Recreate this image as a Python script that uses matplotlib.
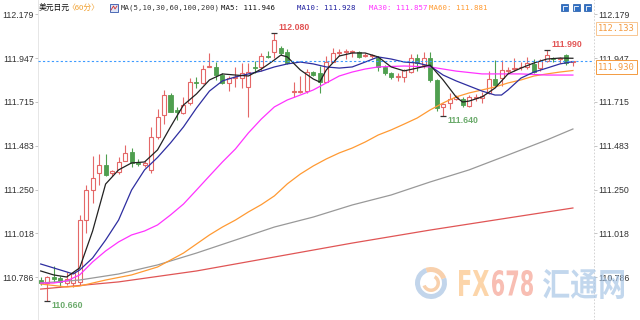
import matplotlib
matplotlib.use("Agg")
import matplotlib.pyplot as plt
from matplotlib.patches import Rectangle, Wedge, PathPatch
from matplotlib.textpath import TextPath
from matplotlib.font_manager import FontProperties
from matplotlib.transforms import Affine2D
import numpy as np

plt.rcParams['font.family'] = ['Liberation Sans', 'Noto Sans CJK SC', 'DejaVu Sans']

# ---------------- data ----------------
opens = [110.770, 110.752, 110.788, 110.780, 110.752, 110.754, 110.762, 111.088, 111.247, 111.340,
         111.380, 111.340, 111.345, 111.403, 111.450, 111.398, 111.380, 111.353, 111.530, 111.645,
         111.750, 111.670, 111.655, 111.710, 111.820, 111.815, 111.900, 111.900, 111.857, 111.817,
         111.840, 111.840, 111.795, 111.900, 111.900, 111.960, 111.979, 111.999, 111.980, 111.768,
         111.767, 111.772, 111.875, 111.866, 111.822, 111.928, 111.972, 111.980, 111.977, 111.980,
         111.958, 111.958, 111.950, 111.900, 111.866, 111.847, 111.848, 111.875, 111.946, 111.910,
         111.946, 111.830, 111.686, 111.707, 111.730, 111.728, 111.695, 111.733, 111.735, 111.760,
         111.835, 111.840, 111.880, 111.890, 111.898, 111.902, 111.915, 111.893, 111.933, 111.946,
         111.940, 111.963, 111.925]
highs = [110.788, 110.790, 110.845, 110.790, 110.810, 110.814, 111.115, 111.274, 111.427, 111.440,
         111.440, 111.355, 111.420, 111.485, 111.470, 111.410, 111.400, 111.583, 111.677, 111.780,
         111.760, 111.690, 111.740, 111.840, 111.845, 111.910, 111.975, 111.928, 111.870, 111.850,
         111.900, 111.920, 111.922, 111.930, 111.975, 111.985, 112.080, 112.010, 111.995, 111.820,
         111.850, 111.890, 111.880, 111.905, 111.960, 112.000, 111.997, 111.995, 111.990, 111.985,
         111.975, 111.970, 111.960, 111.910, 111.875, 111.870, 111.890, 111.970, 111.970, 111.980,
         111.980, 111.835, 111.710, 111.760, 111.750, 111.740, 111.750, 111.755, 111.765, 111.880,
         111.937, 111.935, 111.900, 111.950, 111.925, 111.955, 111.940, 111.940, 111.990, 111.955,
         111.955, 111.970, 111.933]
lows = [110.744, 110.660, 110.762, 110.735, 110.745, 110.735, 110.744, 111.020, 111.180, 111.274,
        111.320, 111.320, 111.330, 111.400, 111.370, 111.375, 111.370, 111.340, 111.520, 111.600,
        111.660, 111.620, 111.650, 111.700, 111.790, 111.810, 111.898, 111.830, 111.810, 111.770,
        111.795, 111.790, 111.636, 111.870, 111.880, 111.945, 111.950, 111.965, 111.915, 111.740,
        111.760, 111.760, 111.850, 111.760, 111.820, 111.925, 111.960, 111.940, 111.955, 111.950,
        111.952, 111.945, 111.880, 111.855, 111.835, 111.823, 111.820, 111.870, 111.880, 111.895,
        111.820, 111.668, 111.640, 111.675, 111.725, 111.690, 111.690, 111.720, 111.710, 111.755,
        111.795, 111.800, 111.870, 111.880, 111.883, 111.890, 111.870, 111.880, 111.927, 111.925,
        111.920, 111.910, 111.905]
closes = [110.752, 110.788, 110.774, 110.761, 110.775, 110.808, 111.088, 111.247, 111.310, 111.380,
          111.327, 111.350, 111.398, 111.445, 111.390, 111.385, 111.390, 111.530, 111.636, 111.750,
          111.663, 111.660, 111.700, 111.820, 111.815, 111.890, 111.905, 111.857, 111.817, 111.840,
          111.848, 111.868, 111.875, 111.893, 111.958, 111.955, 112.045, 111.973, 111.920, 111.772,
          111.772, 111.875, 111.858, 111.822, 111.928, 111.972, 111.980, 111.986, 111.982, 111.954,
          111.965, 111.962, 111.900, 111.866, 111.845, 111.853, 111.884, 111.946, 111.920, 111.946,
          111.830, 111.681, 111.703, 111.730, 111.740, 111.698, 111.740, 111.742, 111.745, 111.835,
          111.805, 111.884, 111.885, 111.895, 111.900, 111.922, 111.875, 111.933, 111.963, 111.940,
          111.946, 111.922, 111.930]

ma5_idx = [0, 2, 4, 6, 8, 10, 12, 14, 16, 18, 20, 22, 24, 26, 28, 30, 32, 34, 36, 37, 38, 40, 42, 43,
           44, 46, 48, 50, 52, 54, 56, 58, 60, 62, 64, 65, 66, 68, 70, 72, 74, 76, 78, 80, 82]
ma5_val = [110.818, 110.797, 110.786, 110.834, 111.030, 111.279, 111.354, 111.391, 111.396, 111.460,
           111.582, 111.698, 111.757, 111.831, 111.863, 111.857, 111.852, 111.889, 111.937, 111.963,
           111.953, 111.884, 111.836, 111.820, 111.884, 111.958, 111.974, 111.974, 111.953, 111.900,
           111.879, 111.894, 111.910, 111.831, 111.741, 111.714, 111.719, 111.741, 111.788, 111.863,
           111.894, 111.921, 111.942, 111.947, 111.946]
ma10_idx = [0, 2, 4, 5, 6, 8, 10, 12, 14, 16, 18, 20, 22, 24, 26, 28, 30, 32, 34, 36, 38, 40, 42, 44,
            46, 48, 50, 52, 54, 56, 58, 60, 62, 64, 66, 68, 70, 71, 72, 74, 76, 78, 80, 82]
ma10_val = [110.855, 110.834, 110.813, 110.802, 110.823, 110.887, 110.982, 111.088, 111.247, 111.354,
            111.420, 111.497, 111.582, 111.682, 111.772, 111.826, 111.847, 111.863, 111.878, 111.900,
            111.916, 111.926, 111.916, 111.900, 111.894, 111.900, 111.926, 111.953, 111.942, 111.926,
            111.921, 111.905, 111.857, 111.826, 111.799, 111.772, 111.751, 111.751, 111.778, 111.841,
            111.873, 111.894, 111.916, 111.928]
ma30_idx = [0, 2, 4, 6, 8, 10, 12, 14, 16, 18, 20, 22, 24, 26, 28, 30, 32, 34, 36, 38, 40, 42, 44,
            46, 48, 50, 52, 56, 60, 62, 64, 68, 74, 78, 82]
ma30_val = [110.754, 110.754, 110.765, 110.797, 110.866, 110.924, 110.972, 111.009, 111.030, 111.062,
            111.115, 111.173, 111.247, 111.322, 111.396, 111.465, 111.550, 111.624, 111.688, 111.725,
            111.751, 111.778, 111.815, 111.852, 111.873, 111.889, 111.900, 111.905, 111.900, 111.889,
            111.878, 111.863, 111.863, 111.857, 111.857]
ma60_idx = [0, 4, 6, 10, 14, 18, 22, 24, 26, 28, 30, 32, 34, 36, 38, 40, 42, 44, 46, 48, 50, 52, 54,
            56, 58, 60, 62, 64, 66, 68, 70, 72, 74, 76, 78, 80, 82]
ma60_val = [110.749, 110.733, 110.738, 110.770, 110.797, 110.839, 110.913, 110.961, 111.009, 111.051,
            111.088, 111.131, 111.170, 111.216, 111.280, 111.332, 111.375, 111.412, 111.444, 111.470,
            111.502, 111.539, 111.566, 111.597, 111.629, 111.672, 111.709, 111.741, 111.762, 111.778,
            111.794, 111.815, 111.831, 111.852, 111.863, 111.873, 111.881]
ma100_idx = [0, 6, 12, 18, 24, 30, 36, 42, 48, 54, 60, 66, 72, 78, 82]
ma100_val = [110.754, 110.770, 110.802, 110.850, 110.913, 110.982, 111.051, 111.104, 111.168, 111.221,
             111.290, 111.354, 111.433, 111.513, 111.571]
ma200_idx = [0, 12, 24, 36, 48, 60, 72, 82]
ma200_val = [110.722, 110.760, 110.818, 110.892, 110.966, 111.035, 111.099, 111.152]

ytick_vals = [112.179, 111.947, 111.715, 111.483, 111.250, 111.018, 110.786]
ytick_labels = ["112.179", "111.947", "111.715", "111.483", "111.250", "111.018", "110.786"]
last_price = 111.930
hi_label, hi_idx, hi_val = "112.080", 36, 112.080
hi2_label, hi2_idx, hi2_val = "111.990", 78, 111.990
lo_label, lo_idx, lo_val = "110.660", 1, 110.660
lo2_label, lo2_idx, lo2_val = "111.640", 62, 111.640

# ---------------- figure ----------------
W, H = 640, 320
fig = plt.figure(figsize=(6.4, 3.2), dpi=100)
fig.patch.set_facecolor('white')
ax = fig.add_axes([38 / W, 0, (594 - 38) / W, 1])
ax.set_facecolor('white')
ax.set_xlim(-0.416, 85.25)
ax.set_ylim(110.558, 112.255)

pxT = Affine2D().scale(1 / W, 1 / H) + fig.transFigure  # pixel coords, origin bottom-left

idx = np.arange(len(opens))
o = np.array(opens); c = np.array(closes); h = np.array(highs); l = np.array(lows)
up = c >= o
RED = '#e46868'
GREEN = '#4f9f4f'
wick_colors = [RED if u else GREEN for u in up]
ax.vlines(idx, l, h, colors=wick_colors, linewidth=0.8, zorder=2)
bottoms = np.minimum(o, c)
heights = np.maximum(np.abs(c - o), 0.0015)
ax.bar(idx[up], heights[up], bottom=bottoms[up], width=0.62, facecolor='white',
       edgecolor=RED, linewidth=0.8, zorder=3)
ax.bar(idx[~up], heights[~up], bottom=bottoms[~up], width=0.62, facecolor=GREEN,
       edgecolor=GREEN, linewidth=0.6, zorder=3)

ax.plot(ma200_idx, ma200_val, color='#e05555', lw=0.9, zorder=4)
ax.plot(ma100_idx, ma100_val, color='#999999', lw=0.9, zorder=4)
ax.plot(ma60_idx, ma60_val, color='#ff9a33', lw=0.9, zorder=4)
ax.plot(ma30_idx, ma30_val, color='#ff33ff', lw=0.9, zorder=4)
ax.plot(ma10_idx, ma10_val, color='#2e2ea0', lw=0.9, zorder=5)
ax.plot(ma5_idx, ma5_val, color='#222222', lw=0.9, zorder=5)

ax.axhline(last_price, color='#3d9bff', lw=0.8, ls=(0, (2, 2)), zorder=6)

# extreme markers and labels
for i, v in [(hi_idx, hi_val), (hi2_idx, hi2_val), (lo_idx, lo_val), (lo2_idx, lo2_val)]:
    ax.plot([i], [v], marker='_', markersize=4, mew=0.9, color='#333333', zorder=6)
ax.annotate(hi_label, (hi_idx, hi_val), xytext=(3, 4), textcoords='offset points',
            ha='left', va='center', color='#e25555', fontsize=6.3, fontweight='bold')
ax.annotate(hi2_label, (hi2_idx, hi2_val), xytext=(3, 3.6), textcoords='offset points',
            ha='left', va='center', color='#e25555', fontsize=6.3, fontweight='bold')
ax.annotate(lo_label, (lo_idx, lo_val), xytext=(3, -3.6), textcoords='offset points',
            ha='left', va='center', color='#6aaa6a', fontsize=6.3, fontweight='bold')
ax.annotate(lo2_label, (lo2_idx, lo2_val), xytext=(3, -3.6), textcoords='offset points',
            ha='left', va='center', color='#6aaa6a', fontsize=6.3, fontweight='bold')

# axes styling
ax.set_xticks([])
ax.set_yticks(ytick_vals)
ax.set_yticklabels(ytick_labels)
ax.tick_params(axis='y', which='both', left=True, right=True, labelleft=True, labelright=True,
               length=2, width=0.6, color='#bbbbbb', pad=1, labelsize=6.3, labelcolor='#333333')
for s in ['top', 'bottom']:
    ax.spines[s].set_visible(False)
ax.spines['left'].set_color('#e2e2e2')
ax.spines['left'].set_linewidth(0.6)
ax.spines['right'].set_color('#cccccc')
ax.spines['right'].set_linewidth(0.6)
ax.spines['right'].set_linestyle((0, (1, 3)))

# right-side boxes
fig.text(598 / W, 1 - 28.5 / H, "112.133", color='#f39a40', fontsize=6.3, ha='left', va='center',
         family='DejaVu Sans Mono',
         bbox=dict(boxstyle='square,pad=0.25', fc='white', ec='#f7bd80', lw=0.6))
fig.text(598 / W, 1 - 67 / H, "111.930", color='#f39a40', fontsize=6.3, ha='left', va='center',
         family='DejaVu Sans Mono',
         bbox=dict(boxstyle='square,pad=0.25', fc='white', ec='#f39a40', lw=0.7))

# header
hy = 1 - 8 / H
fig.text(39 / W, hy, "美元日元", fontsize=5.6, color='#111111', ha='left', va='center',
         family=['Noto Sans CJK SC', 'DejaVu Sans'])
fig.text(67 / W, hy, "〈60分〉", fontsize=5.6, color='#f0a030', ha='left', va='center',
         family=['Noto Sans CJK SC', 'DejaVu Sans'])
fig.add_artist(Rectangle((110, 320 - 12), 8, 8, transform=pxT, fc='#dfe6f7', ec='#3355aa', lw=0.6))
fig.add_artist(plt.Line2D([111, 113.5, 115, 117], [320 - 10, 320 - 6, 320 - 9, 320 - 6],
                          transform=pxT, color='#d03030', lw=0.6))
mono = 'DejaVu Sans Mono'
fig.text(121 / W, hy, "MA(5,10,30,60,100,200)", fontsize=5.3, color='#333333', ha='left', va='center', family=mono)
fig.text(221 / W, hy, "MA5: 111.946", fontsize=5.3, color='#111111', ha='left', va='center', family=mono)
fig.text(297 / W, hy, "MA10: 111.928", fontsize=5.3, color='#2020a0', ha='left', va='center', family=mono)
fig.text(369 / W, hy, "MA30: 111.857", fontsize=5.3, color='#ff33ff', ha='left', va='center', family=mono)
fig.text(429 / W, hy, "MA60: 111.881", fontsize=5.3, color='#ff9a30', ha='left', va='center', family=mono)

# top right icons
for x0 in [561, 572.5, 584]:
    fig.add_artist(Rectangle((x0, 320 - 11), 7, 7, transform=pxT, fc='#2f6fc4', ec='#1f5aa8', lw=0.5))
    fig.add_artist(plt.Line2D([x0 + 1.5, x0 + 1.5, x0 + 5.5], [320 - 9.5, 320 - 5.5, 320 - 5.5],
                              transform=pxT, color='white', lw=0.6))

# watermark
def text_in_box(s, x0, x1, ytop, ybot, color, alpha, family, weight='bold'):
    tp = TextPath((0, 0), s, size=1, prop=FontProperties(family=family, weight=weight))
    ext = tp.get_extents()
    sx = (x1 - x0) / ext.width
    sy = (ybot - ytop) / ext.height
    tr = Affine2D().translate(-ext.x0, -ext.y0).scale(sx, sy).translate(x0, 320 - ybot) + pxT
    fig.add_artist(PathPatch(tp, transform=tr, fc=color, ec='none', alpha=alpha, zorder=1))

text_in_box("FX", 459, 489, 270, 296, '#fbc88e', 0.75, 'DejaVu Sans')
text_in_box("678", 492, 533, 270, 296, '#f6a89a', 0.75, 'DejaVu Sans')
text_in_box("汇通网", 543, 624, 269, 299, '#a9c6e6', 0.7, 'Noto Sans CJK SC')
cx, cy = 431, 320 - 283
fig.add_artist(Wedge((cx, cy), 16, 110, 380, width=5, transform=pxT, fc='#b3cbe6', ec='none', alpha=0.8))
fig.add_artist(Wedge((cx, cy), 16, 20, 110, width=5, transform=pxT, fc='#f7c597', ec='none', alpha=0.8))
fig.add_artist(Wedge((cx, cy), 9, 200, 420, width=3.5, transform=pxT, fc='#f7c597', ec='none', alpha=0.8))

fig.savefig('out.png', dpi=100, facecolor='white')
